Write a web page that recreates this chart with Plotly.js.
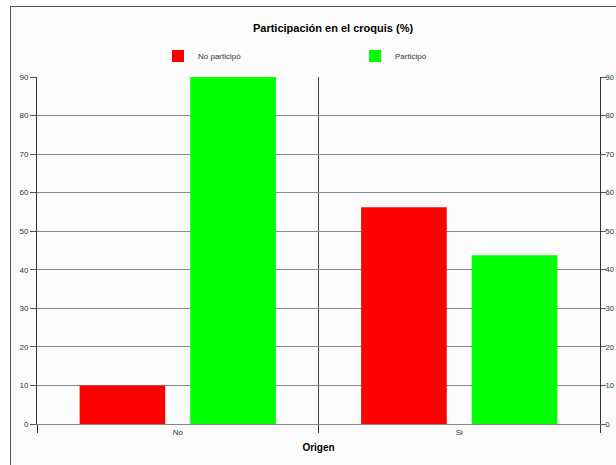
<!DOCTYPE html>
<html>
<head>
<meta charset="utf-8">
<script src="https://cdn.plot.ly/plotly-3.0.1.min.js"></script>
<style>
  html, body { margin: 0; padding: 0; background: #ffffff; }
  #frame { position: absolute; left: 0; top: 0; width: 616px; height: 465px; }
  #border { position: absolute; left: 10px; top: 6px; width: 620px; height: 470px;
            border-left: 1px solid #555; border-top: 1px solid #555; background: #fcfcfc; }
  #chart { position: absolute; left: 0; top: 0; width: 616px; height: 465px; }
</style>
</head>
<body>
<div id="frame">
  <div id="border"></div>
  <div id="chart"></div>
</div>
<script>
const categories = ["No", "Si"];
const seriesNames = ["No participó", "Participó"];
const noParticipo = [10, 56.2];
const participo = [90, 43.8];
const yTicks = [0, 10, 20, 30, 40, 50, 60, 70, 80, 90];

const traces = [
  { type: "bar", name: seriesNames[0], x: categories, y: noParticipo,
    marker: { color: "#ff0000", line: { width: 0 } }, hoverinfo: "none" },
  { type: "bar", name: seriesNames[1], x: categories, y: participo,
    marker: { color: "#00ff00", line: { width: 0 } }, hoverinfo: "none" },
  // invisible companion so the mirrored right-hand value axis is drawn
  { type: "scatter", mode: "markers", x: categories, y: participo, yaxis: "y2",
    marker: { opacity: 0, size: 1 }, showlegend: false, hoverinfo: "none" }
];

const tickFont = { family: "Arial, Liberation Sans, sans-serif", size: 8, color: "#333" };

const layout = {
  width: 616, height: 465,
  paper_bgcolor: "rgba(0,0,0,0)",
  plot_bgcolor: "rgba(0,0,0,0)",
  margin: { l: 37, r: 16, t: 77, b: 41, pad: 0 },
  barmode: "group",
  bargap: 0.214,
  bargroupgap: 0.226,
  showlegend: true,
  title: {
    text: "<b>Participación en el croquis (%)</b>",
    font: { family: "Arial, Liberation Sans, sans-serif", size: 11, color: "#000" },
    x: 333 / 616, xanchor: "center", xref: "container",
    y: 1 - 28 / 465, yanchor: "middle", yref: "container"
  },
  legend: {
    orientation: "h",
    x: (158 - 37) / 563, xanchor: "left",
    y: 1 + (77 - 56) / 347, yanchor: "middle",
    font: { family: "Arial, Liberation Sans, sans-serif", size: 8, color: "#333" },
    entrywidth: 152, entrywidthmode: "pixels",
    itemwidth: 30,
    bgcolor: "rgba(0,0,0,0)"
  },
  xaxis: {
    type: "category",
    tickson: "boundaries",
    ticks: "outside", ticklen: 8, tickcolor: "#333", tickwidth: 1,
    showgrid: true, gridcolor: "#444", gridwidth: 1,
    showline: true, linecolor: "#888", linewidth: 1,
    tickfont: tickFont,
    title: { text: "<b>Origen</b>", font: { family: "Arial, Liberation Sans, sans-serif", size: 10, color: "#000" }, standoff: 8 },
    fixedrange: true
  },
  yaxis: {
    range: [0, 90],
    tickvals: yTicks,
    ticks: "outside", ticklen: 6, tickcolor: "#555", tickwidth: 1,
    showgrid: true, gridcolor: "#8a8a8a", gridwidth: 1,
    showline: true, linecolor: "#333", linewidth: 1,
    zeroline: false,
    tickfont: tickFont,
    fixedrange: true
  },
  yaxis2: {
    overlaying: "y", side: "right", anchor: "x",
    range: [0, 90],
    tickvals: yTicks,
    ticks: "outside", ticklen: 5, tickcolor: "#555", tickwidth: 1,
    ticklabelstandoff: -2,
    showgrid: false,
    showline: true, linecolor: "#333", linewidth: 1,
    zeroline: false,
    tickfont: { family: "Arial, Liberation Sans, sans-serif", size: 7.5, color: "#333" },
    fixedrange: true
  }
};

Plotly.newPlot("chart", traces, layout, { staticPlot: true, displayModeBar: false });
</script>
</body>
</html>
